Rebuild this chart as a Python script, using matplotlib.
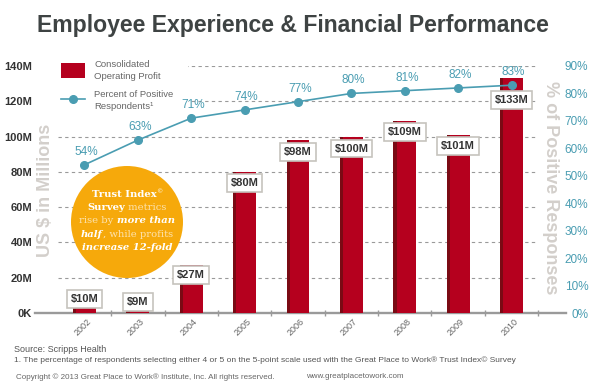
import numpy as np
import matplotlib
matplotlib.use('Agg')
import matplotlib.pyplot as plt
from matplotlib.patches import Circle, Rectangle
from matplotlib.lines import Line2D
from matplotlib.offsetbox import TextArea, HPacker, VPacker, AnnotationBbox
import matplotlib.transforms as mtransforms

# ---------------- data ----------------
years = ['2002', '2003', '2004', '2005', '2006', '2007', '2008', '2009', '2010']
profit = [10, 9, 27, 80, 98, 100, 109, 101, 133]           # $ millions
profit_labels = ['$10M', '$9M', '$27M', '$80M', '$98M', '$100M', '$109M', '$101M', '$133M']
positive = [54, 63, 71, 74, 77, 80, 81, 82, 83]              # percent
left_ticks = [0, 20, 40, 60, 80, 100, 120, 140]
left_tick_labels = ['0K', '20M', '40M', '60M', '80M', '100M', '120M', '140M']
right_ticks = [0, 10, 20, 30, 40, 50, 60, 70, 80, 90]
right_tick_labels = ['0%', '10%', '20%', '30%', '40%', '50%', '60%', '70%', '80%', '90%']

# ---------------- styles ----------------
RED = '#B5001E'
DARKRED = '#7A0A14'
TEAL = '#4A9DB2'
GRID = '#9a9a9a'
AXLBL = '#D3CFCB'
label_drop_px = [4, 5, 10, 11, 12, 12, 11, 11, 22]

plt.rcParams['font.family'] = ['Liberation Sans', 'DejaVu Sans']

W, H = 616, 387
fig = plt.figure(figsize=(W / 100, H / 100), dpi=100)
ax = fig.add_axes([35 / W, 1 - 313 / H, (566 - 35) / W, (313 - 66) / H])
x = np.arange(len(years))
ax.set_xlim(-0.927, 9.02)
ax.set_ylim(0, 140)

# dashed grid lines
ax.hlines(left_ticks[1:], -0.5, 8.5, colors=GRID, linestyles=(0, (3, 3)), lw=0.8, zorder=1)

# bars with a dark left edge strip
bw = 0.43
ax.bar(x, profit, width=bw, color=RED, zorder=3)
ax.bar(x - bw / 2 + 0.03, profit, width=0.06, color=DARKRED, zorder=3.1)

# value labels
for xi, v, lbl, d in zip(x, profit, profit_labels, label_drop_px):
    ax.annotate(lbl, (xi, v), xytext=(0, -d), textcoords='offset pixels',
                ha='center', va='center', fontsize=8, fontweight='bold', color='#333333',
                bbox=dict(boxstyle='square,pad=0.35', fc='white', ec='#c6c3bd', lw=1.2),
                zorder=6)

# spines & ticks
for s in ['top', 'left', 'right']:
    ax.spines[s].set_visible(False)
ax.spines['bottom'].set_color('#9a9a9a')
ax.spines['bottom'].set_linewidth(1.7)

ax.set_yticks(left_ticks, left_tick_labels)
ax.tick_params(axis='y', length=0, pad=2, labelsize=8, labelcolor='#333333')
for t in ax.get_yticklabels():
    t.set_fontweight('bold')

ax.set_xticks(x, years)
ax.set_xticks(x + 0.5, minor=True)
ax.tick_params(axis='x', which='major', length=0, pad=5, labelsize=6.5, labelcolor='#666666')
ax.tick_params(axis='x', which='minor', length=5, width=1, direction='inout', color='#9a9a9a')
offset = mtransforms.ScaledTranslation(5 / 100, 0, fig.dpi_scale_trans)
for t in ax.get_xticklabels():
    t.set_rotation(45)
    t.set_ha('right')
    t.set_va('center')
    t.set_rotation_mode('anchor')
    t.set_transform(t.get_transform() + offset)

# line on twin axis
ax2 = ax.twinx()
ax2.set_ylim(0, 90)
ax2.plot(x, positive, color=TEAL, lw=1.2, marker='o', ms=5.5, zorder=5)
for xi, p in zip(x, positive):
    ax2.annotate(f'{p}%', (xi, p), xytext=(2, 13), textcoords='offset pixels',
                 ha='center', va='center', fontsize=8.5, color=TEAL)
for s in ['top', 'left', 'right', 'bottom']:
    ax2.spines[s].set_visible(False)
ax2.set_yticks(right_ticks, right_tick_labels)
ax2.tick_params(axis='y', length=0, pad=16, labelsize=8.5, labelcolor=TEAL)
for t in ax2.get_yticklabels():
    t.set_ha('right')

# axis titles
fig.text(46 / W, 1 - 190 / H, 'US $ in Millions', rotation=90, fontsize=13, fontweight='bold',
         color=AXLBL, ha='center', va='center')
fig.text(550 / W, 1 - 188 / H, '% of Positive Responses', rotation=270, fontsize=13,
         fontweight='bold', color=AXLBL, ha='center', va='center')

# title
fig.text(37 / W, 1 - 32 / H, 'Employee Experience & Financial Performance', fontsize=16.6,
         fontweight='bold', color='#3E4343', ha='left', va='baseline')

# legend background + legend
ax.add_patch(Rectangle((55 / W, 1 - 115 / H), 133 / W, 60 / H, transform=fig.transFigure,
                       facecolor='white', edgecolor='none', zorder=2, clip_on=False))
handles = [Rectangle((0, 0), 1, 1, facecolor=RED, edgecolor='none'),
           Line2D([], [], color=TEAL, lw=1.2, marker='o', ms=5.5)]
leg = ax2.legend(handles, ['Consolidated\nOperating Profit', 'Percent of Positive\nRespondents\u00b9'],
                 loc='upper left', bbox_to_anchor=(59 / W, 1 - 58 / H),
                 bbox_transform=fig.transFigure, frameon=False, fontsize=6.8,
                 handlelength=2.5, handleheight=2.1, handletextpad=1.05, labelspacing=1.0,
                 borderpad=0.2, borderaxespad=0)
for t in leg.get_texts():
    t.set_color('#666666')
    t.set_linespacing(1.4)

# orange callout circle
ax.add_patch(Circle((1.27, (H - 222) / 100), 0.56, transform=fig.dpi_scale_trans,
                    facecolor='#F6A90B', edgecolor='none', zorder=4, clip_on=False))
SER = ['DejaVu Serif']
LIGHT = '#FDE3B0'
def ta(s, bold=False, italic=False, color='white', size=7.2):
    return TextArea(s, textprops=dict(family=SER, fontsize=size, color=color,
                                      fontweight='bold' if bold else 'normal',
                                      fontstyle='italic' if italic else 'normal'))
lines = [
    HPacker(children=[ta('Trust Index', bold=True), ta('\u00a9', size=4.5)], sep=0, align='top', pad=0),
    HPacker(children=[ta('Survey', bold=True), ta(' metrics', color=LIGHT)], sep=0, align='baseline', pad=0),
    HPacker(children=[ta('rise by ', color=LIGHT), ta('more than', bold=True, italic=True)], sep=0, align='baseline', pad=0),
    HPacker(children=[ta('half', bold=True, italic=True), ta(', while profits', color=LIGHT)], sep=0, align='baseline', pad=0),
    HPacker(children=[ta('increase 12-fold', bold=True, italic=True)], sep=0, align='baseline', pad=0),
]
vp = VPacker(children=lines, sep=3.2, align='center', pad=0)
ab = AnnotationBbox(vp, (1.27, (H - 221) / 100), xycoords=fig.dpi_scale_trans, frameon=False,
                    box_alignment=(0.5, 0.5), zorder=7)
ax.add_artist(ab)

# footer
fig.text(14 / W, 1 - 349 / H, 'Source: Scripps Health', fontsize=6.5, color='#555555', va='center')
fig.text(14 / W, 1 - 360 / H,
         '1. The percentage of respondents selecting either 4 or 5 on the 5-point scale used with the '
         'Great Place to Work\u00ae Trust Index\u00a9 Survey', fontsize=6.0, color='#555555', va='center')
fig.text(16 / W, 1 - 377 / H,
         'Copyright \u00a9 2013 Great Place to Work\u00ae Institute, Inc. All rights reserved.',
         fontsize=5.75, color='#666666', va='center')
fig.text(306 / W, 1 - 377 / H, 'www.greatplacetowork.com', fontsize=5.75, color='#666666', va='center')

fig.savefig('out.png', dpi=100)
